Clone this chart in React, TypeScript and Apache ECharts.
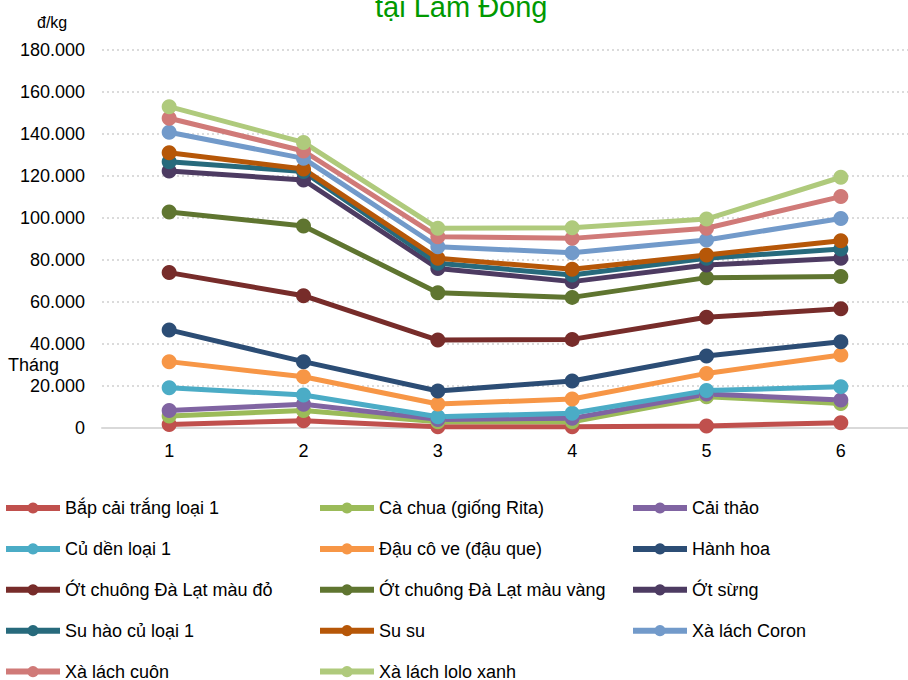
import React, { useEffect, useRef } from "react";
import * as echarts from "echarts";

const months = ["1", "2", "3", "4", "5", "6"];
const yTicks = { min: 0, max: 180000, interval: 20000 };

const bapCai = [1700, 3500, 600, 600, 1000, 2500];
const caChua = [5700, 8300, 3000, 3000, 14900, 11700];
const caiThao = [8300, 11300, 4100, 4600, 16200, 13300];
const cuDen = [19200, 15700, 5400, 7000, 17800, 19700];
const dauCoVe = [31600, 24400, 11400, 13800, 26000, 34800];
const hanhHoa = [46700, 31600, 17600, 22400, 34300, 41100];
const otDo = [74000, 63000, 41900, 42200, 52700, 56800];
const otVang = [102900, 96200, 64400, 62200, 71600, 72100];
const otSung = [122400, 118100, 76000, 69700, 77600, 80800];
const suHao = [126800, 122100, 78400, 72900, 80800, 85200];
const suSu = [131100, 123300, 80800, 75600, 82400, 89200];
const coron = [140800, 128400, 86300, 83500, 89500, 99800];
const cuon = [147500, 131900, 91100, 90300, 95100, 110200];
const lolo = [153000, 136000, 95100, 95400, 99500, 119400];

const seriesNames = [
  "Bắp cải trắng loại 1",
  "Cà chua (giống Rita)",
  "Cải thảo",
  "Củ dền loại 1",
  "Đậu cô ve (đậu que)",
  "Hành hoa",
  "Ớt chuông Đà Lạt màu đỏ",
  "Ớt chuông Đà Lạt màu vàng",
  "Ớt sừng",
  "Su hào củ loại 1",
  "Su su",
  "Xà lách Coron",
  "Xà lách cuôn",
  "Xà lách lolo xanh",
];
const seriesValues = [bapCai, caChua, caiThao, cuDen, dauCoVe, hanhHoa, otDo, otVang, otSung, suHao, suSu, coron, cuon, lolo];
const seriesColors = [
  "#C0504D", "#9BBB59", "#8064A2", "#4BACC6", "#F79646", "#2C4D75", "#772C2A",
  "#5F7530", "#4D3B62", "#276A7C", "#B65708", "#729ACA", "#D07A78", "#AFCA7C",
];

const titleText = "tại Lâm Đồng";
const yUnit = "đ/kg";
const xName = "Tháng";

const fmt = (v: number) => String(v).replace(/\B(?=(\d{3})+(?!\d))/g, ".");

export default function App() {
  const ref = useRef<HTMLDivElement>(null);
  useEffect(() => {
    if (!ref.current) return;
    const chart = echarts.init(ref.current, null, { renderer: "svg" });
    const font = "'Liberation Sans', Arial, sans-serif";
    const cols = [0, 1, 2].map((c) => seriesNames.filter((_, i) => i % 3 === c));
    const colLeft = [3, 317, 630];
    chart.setOption({
      animation: false,
      backgroundColor: "#ffffff",
      textStyle: { fontFamily: font },
      title: {
        text: titleText,
        left: 375,
        top: -8,
        padding: 0,
        textStyle: { color: "#009900", fontSize: 29, fontWeight: "normal", fontFamily: font },
      },
      grid: { left: 102, right: -6, top: 50, bottom: 252, containLabel: false },
      xAxis: {
        type: "category",
        data: months,
        boundaryGap: true,
        axisLine: { lineStyle: { color: "#D9D9D9", width: 2 } },
        axisTick: { show: false },
        axisLabel: { color: "#000", fontSize: 18, margin: 14, fontFamily: font },
      },
      yAxis: {
        type: "value",
        min: yTicks.min,
        max: yTicks.max,
        interval: yTicks.interval,
        axisLine: { show: false },
        axisTick: { show: false },
        axisLabel: { color: "#000", fontSize: 18, margin: 17, formatter: fmt, fontFamily: font },
        splitLine: { lineStyle: { color: "#D0D0D0", type: [2, 3], width: 1.5 } },
      },
      legend: cols.map((data, c) => ({
        data,
        orient: "vertical",
        left: colLeft[c],
        top: 499,
        height: 200,
        padding: 0,
        itemWidth: 54,
        itemHeight: 14,
        itemGap: 22.9,
        lineStyle: { width: 6 },
        textStyle: { color: "#000", fontSize: 18, fontFamily: font },
      })),
      graphic: [
        { type: "text", left: 37, top: 14, style: { text: yUnit, fontSize: 16, fill: "#000", fontFamily: font } },
        { type: "text", left: 8, top: 356, style: { text: xName, fontSize: 18, fill: "#000", fontFamily: font } },
      ],
      series: seriesNames.map((name, i) => ({
        name,
        type: "line",
        data: seriesValues[i],
        color: seriesColors[i],
        symbol: "circle",
        symbolSize: 15,
        lineStyle: { width: 5 },
      })),
    });
    return () => chart.dispose();
  }, []);
  return <div ref={ref} style={{ position: "fixed", left: 0, top: 0, width: 908, height: 680 }} />;
}
